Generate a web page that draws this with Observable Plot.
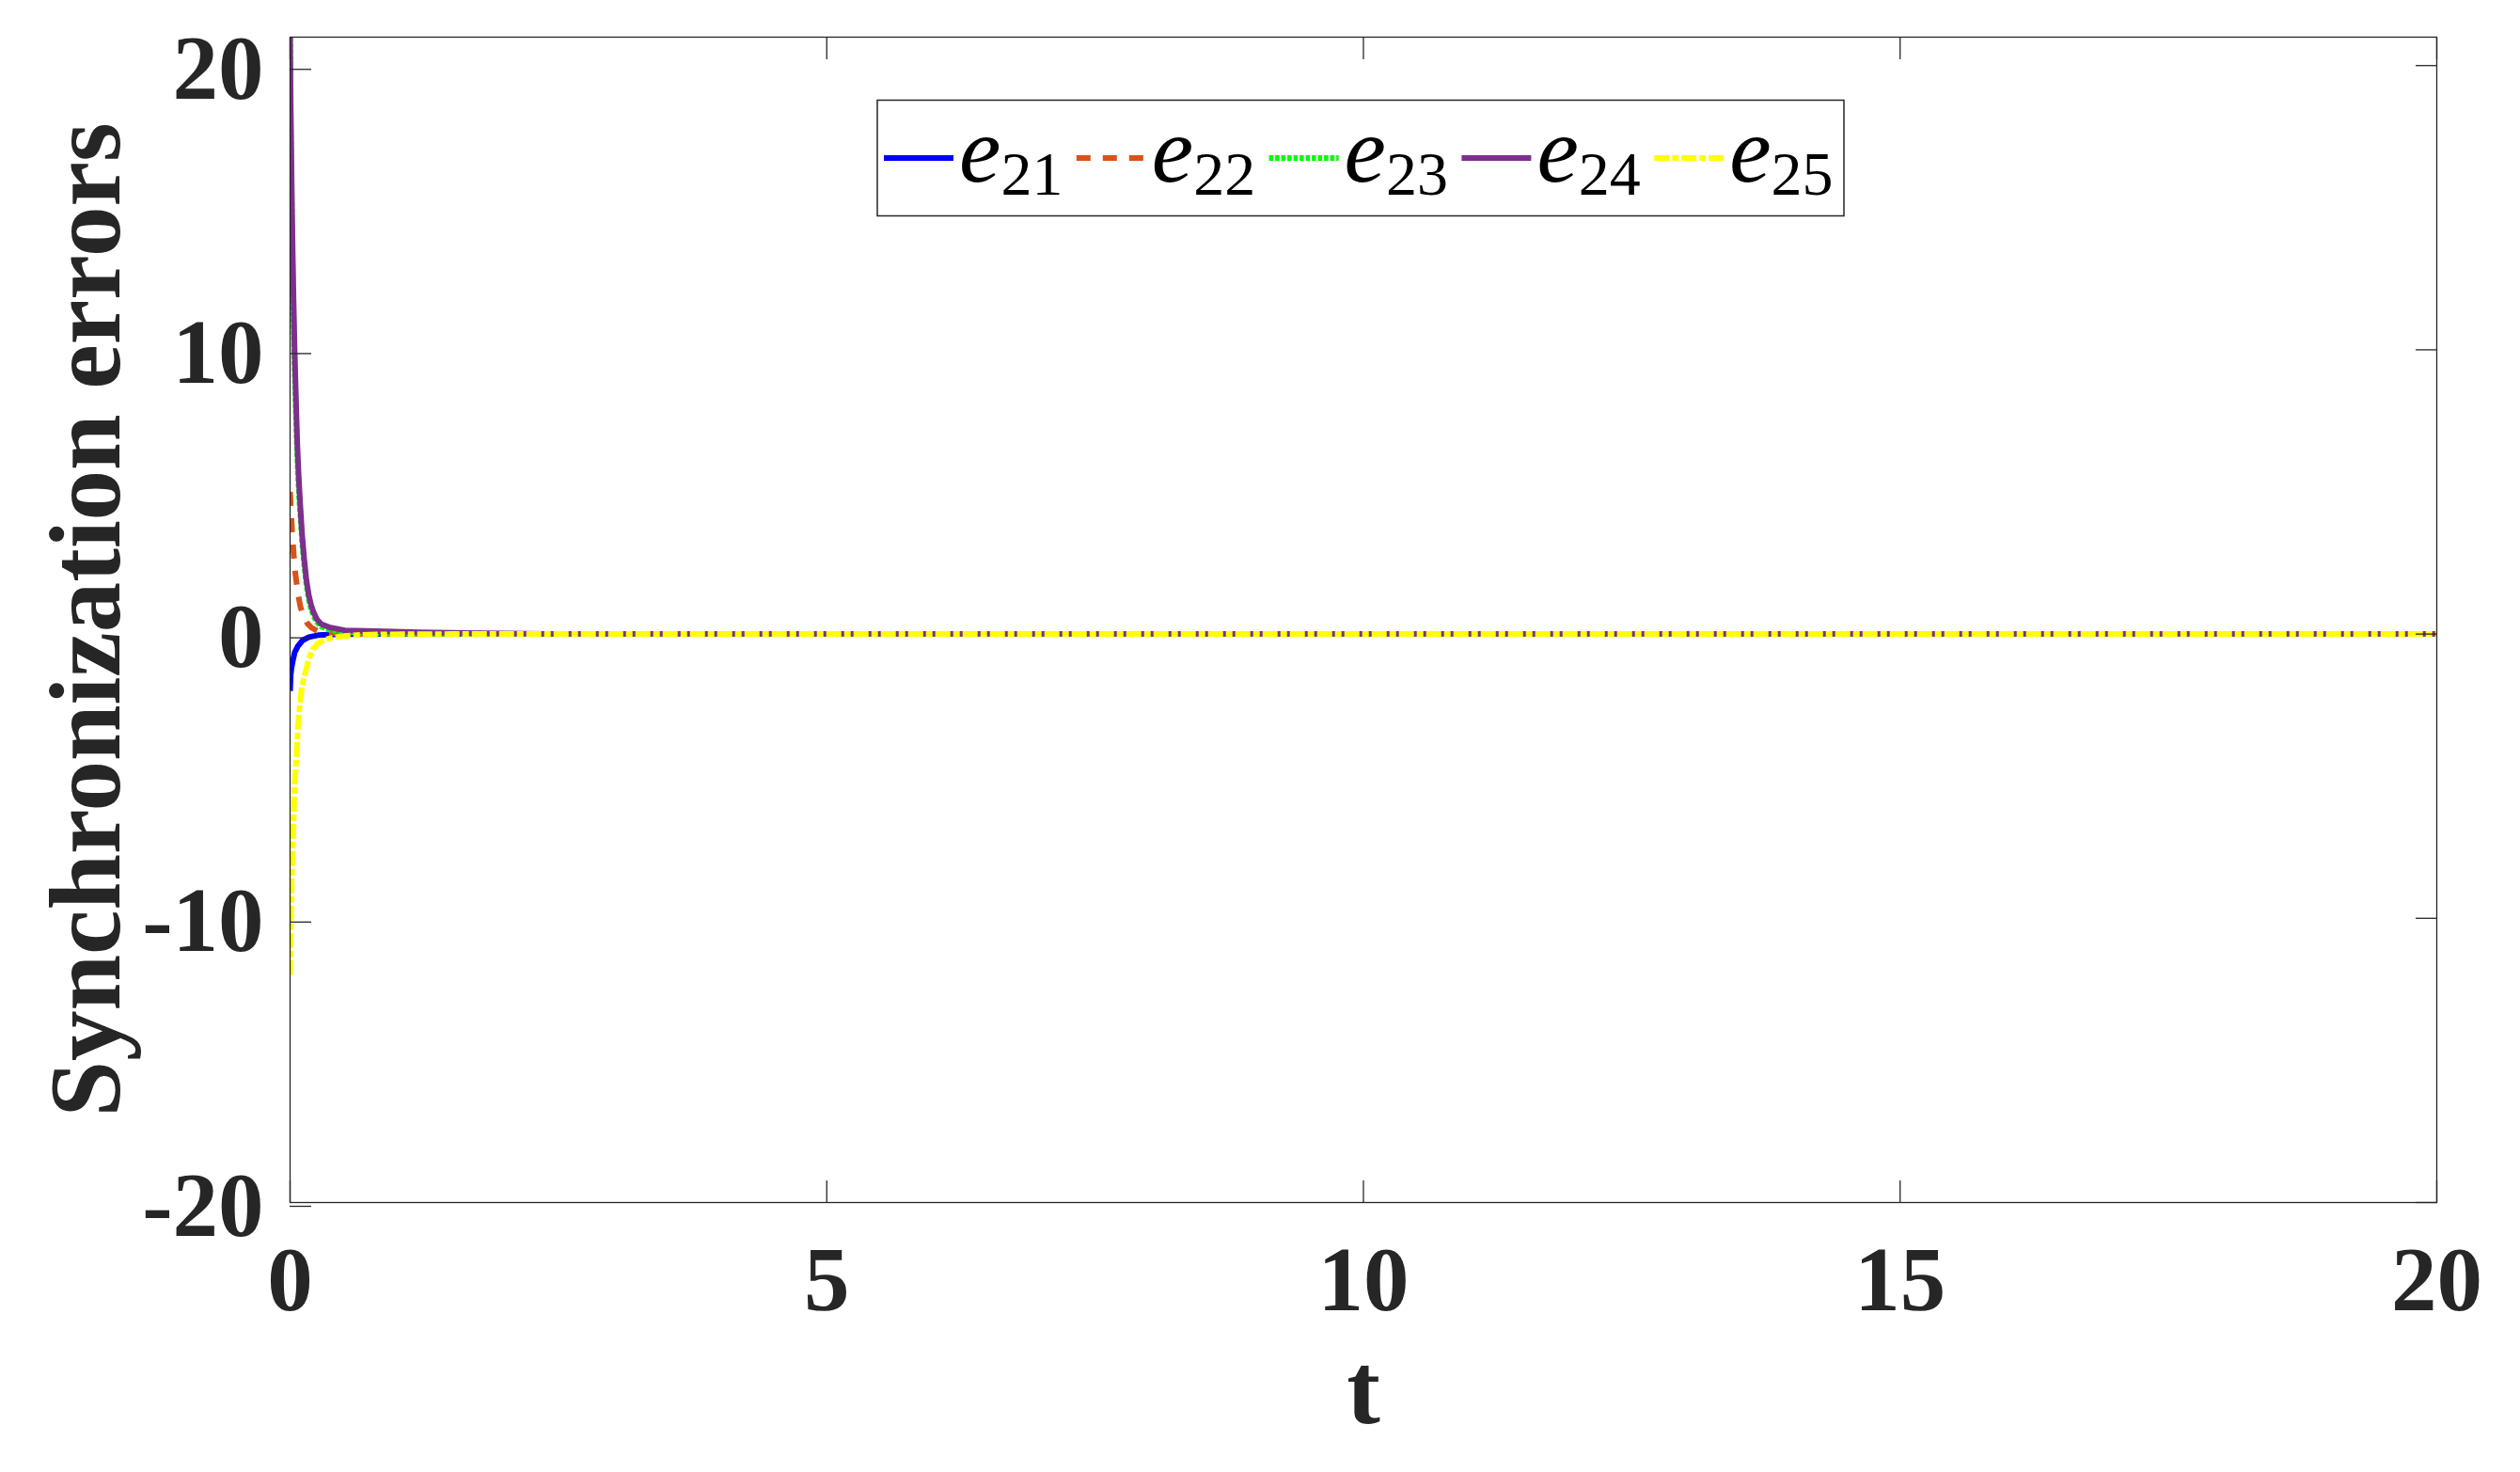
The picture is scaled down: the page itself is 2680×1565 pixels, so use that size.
<!DOCTYPE html>
<html>
<head>
<meta charset="utf-8">
<script src="https://cdn.jsdelivr.net/npm/d3@7"></script>
<script src="https://cdn.jsdelivr.net/npm/@observablehq/plot@0.6"></script>
<style>
  html, body { margin: 0; padding: 0; background: #fff; }
  #wrap { position: relative; width: 2680px; height: 1565px; }
  #wrap svg { position: absolute; left: 0; top: 0; }
</style>
</head>
<body>
<div id="wrap"></div>
<script>
// ---- data ----
const xTicks = [0, 5, 10, 15, 20];
const yTicks = [-20, -10, 0, 10, 20];
const seriesNames = ["e21", "e22", "e23", "e24", "e25"];
const seriesSubs = ["21", "22", "23", "24", "25"];
const seriesColors = ["#0000FF", "#D95319", "#00FF00", "#7E2F8E", "#FFFF00"];
const seriesDash = [null, "15,13", "4.5,2", null, "16,3,7,3"];

const t21 = [0, 0.006, 0.015, 0.024, 0.044, 0.073, 0.117, 0.175, 0.26, 0.4, 0.7, 20];
const e21 = [-2, -1.42, -1.15, -0.97, -0.64, -0.42, -0.22, -0.11, -0.04, -0.015, 0, 0];

const t22 = [0, 0.01, 0.02, 0.035, 0.05, 0.07, 0.095, 0.12, 0.16, 0.2, 0.26, 0.33, 0.45, 0.7, 20];
const e22 = [5, 4.25, 3.55, 2.75, 2.1, 1.5, 0.98, 0.68, 0.38, 0.22, 0.1, 0.05, 0.02, 0, 0];

const t23 = [0, 0.006, 0.015, 0.024, 0.032, 0.041, 0.05, 0.059, 0.067, 0.076, 0.085, 0.094, 0.111, 0.13, 0.152, 0.175, 0.196, 0.22, 0.25, 0.29, 0.365, 0.51, 0.8, 1.2, 1.8, 20];
const e23 = [21, 17.8, 15.0, 12.8, 11.1, 9.6, 8.4, 7.2, 6.3, 5.5, 4.8, 4.3, 3.3, 2.5, 1.75, 1.2, 0.9, 0.62, 0.42, 0.26, 0.15, 0.07, 0.03, 0.01, 0, 0];

const t24 = [0, 0.006, 0.015, 0.024, 0.032, 0.041, 0.05, 0.059, 0.067, 0.076, 0.085, 0.094, 0.111, 0.13, 0.152, 0.175, 0.196, 0.22, 0.25, 0.29, 0.365, 0.51, 0.8, 1.2, 1.8, 2.4, 20];
const e24 = [21.2, 18.5, 15.8, 13.5, 11.8, 10.2, 8.9, 7.7, 6.7, 5.9, 5.2, 4.6, 3.55, 2.7, 1.9, 1.35, 1.02, 0.75, 0.52, 0.35, 0.24, 0.13, 0.1, 0.06, 0.03, 0, 0];

const t25 = [0, 0.006, 0.015, 0.03, 0.044, 0.059, 0.073, 0.088, 0.105, 0.125, 0.146, 0.175, 0.21, 0.26, 0.32, 0.4, 0.5, 0.65, 0.9, 1.5, 20];
const e25 = [-12, -10.4, -8.65, -6.8, -5.2, -4.4, -3.3, -2.6, -2.0, -1.6, -1.3, -0.86, -0.55, -0.32, -0.2, -0.12, -0.07, -0.03, -0.01, 0, 0];

const seriesT = [t21, t22, t23, t24, t25];
const seriesV = [e21, e22, e23, e24, e25];

// ---- chart ----
const W = 2680, H = 1565;
const serif = "'Liberation Serif', 'Times New Roman', Times, serif";
const ink = "#262626";

const lineMarks = seriesNames.map((name, i) => {
  const rows = seriesT[i].map((t, j) => ({t, v: seriesV[i][j], name}));
  return Plot.line(rows, {
    x: "t", y: "v",
    stroke: seriesColors[i],
    strokeWidth: 6,
    strokeDasharray: seriesDash[i] ?? undefined,
    strokeLinecap: "butt",
    strokeLinejoin: "round",
    clip: true
  });
});

const chart = Plot.plot({
  width: W,
  height: H,
  marginLeft: 308,
  marginRight: 89,
  marginTop: 39,
  marginBottom: 287,
  style: {background: "transparent", overflow: "visible"},
  x: {domain: [0, 20]},
  y: {domain: [-20, 21]},
  marks: [
    ...lineMarks,
    Plot.frame({stroke: ink, strokeWidth: 1.3}),
    Plot.axisY({anchor: "left", ticks: yTicks, tickSize: -23, tickPadding: 51, dy: 4,
      tickFormat: d => String(d), fontSize: 97, fontFamily: serif, fontWeight: "bold",
      fill: ink, stroke: ink, strokeWidth: 1.3, label: null}),
    Plot.axisY({anchor: "right", ticks: yTicks, tickSize: -23, fill: "none",
      stroke: ink, strokeWidth: 1.3, label: null}),
    Plot.axisX({anchor: "bottom", ticks: xTicks, tickSize: -23, tickPadding: 69,
      tickFormat: d => String(d), fontSize: 97, fontFamily: serif, fontWeight: "bold",
      fill: ink, stroke: ink, strokeWidth: 1.3, label: null}),
    Plot.axisX({anchor: "top", ticks: xTicks, tickSize: -23, fill: "none",
      stroke: ink, strokeWidth: 1.3, label: null}),
    Plot.text(["Synchronization errors"], {text: d => d, frameAnchor: "left", rotate: -90,
      textAnchor: "middle", lineAnchor: "top", dx: -257, fontSize: 107, fontFamily: serif,
      fontWeight: "bold", fill: ink}),
    Plot.text(["t"], {text: d => d, frameAnchor: "bottom", textAnchor: "middle", lineAnchor: "middle", dy: 200,
      fontSize: 107, fontFamily: serif, fontWeight: "bold", fill: ink})
  ]
});

const wrap = document.getElementById("wrap");
wrap.appendChild(chart);

// ---- legend (overlay) ----
const ns = "http://www.w3.org/2000/svg";
const leg = document.createElementNS(ns, "svg");
leg.setAttribute("width", W);
leg.setAttribute("height", H);
leg.style.pointerEvents = "none";
const box = {x: 933, y: 106.5, w: 1028, h: 123};
let html = `<rect x="${box.x}" y="${box.y}" width="${box.w}" height="${box.h}" fill="#fff" stroke="${ink}" stroke-width="1.5"/>`;
const itemX0 = 940, itemStep = 204.8, sampleLen = 74, lineY = 168;
seriesNames.forEach((name, i) => {
  const x = itemX0 + i * itemStep;
  const dash = seriesDash[i] ? ` stroke-dasharray="${seriesDash[i]}"` : "";
  html += `<line x1="${x}" x2="${x + sampleLen}" y1="${lineY}" y2="${lineY}" stroke="${seriesColors[i]}" stroke-width="6"${dash}/>`;
  html += `<text x="${x + 80}" y="193" font-family="${serif.replace(/'/g, "&apos;")}" font-size="100" font-style="italic" fill="#000">e<tspan font-style="normal" font-size="66" dy="14">${seriesSubs[i]}</tspan></text>`;
});
leg.innerHTML = html;
wrap.appendChild(leg);
</script>
</body>
</html>
